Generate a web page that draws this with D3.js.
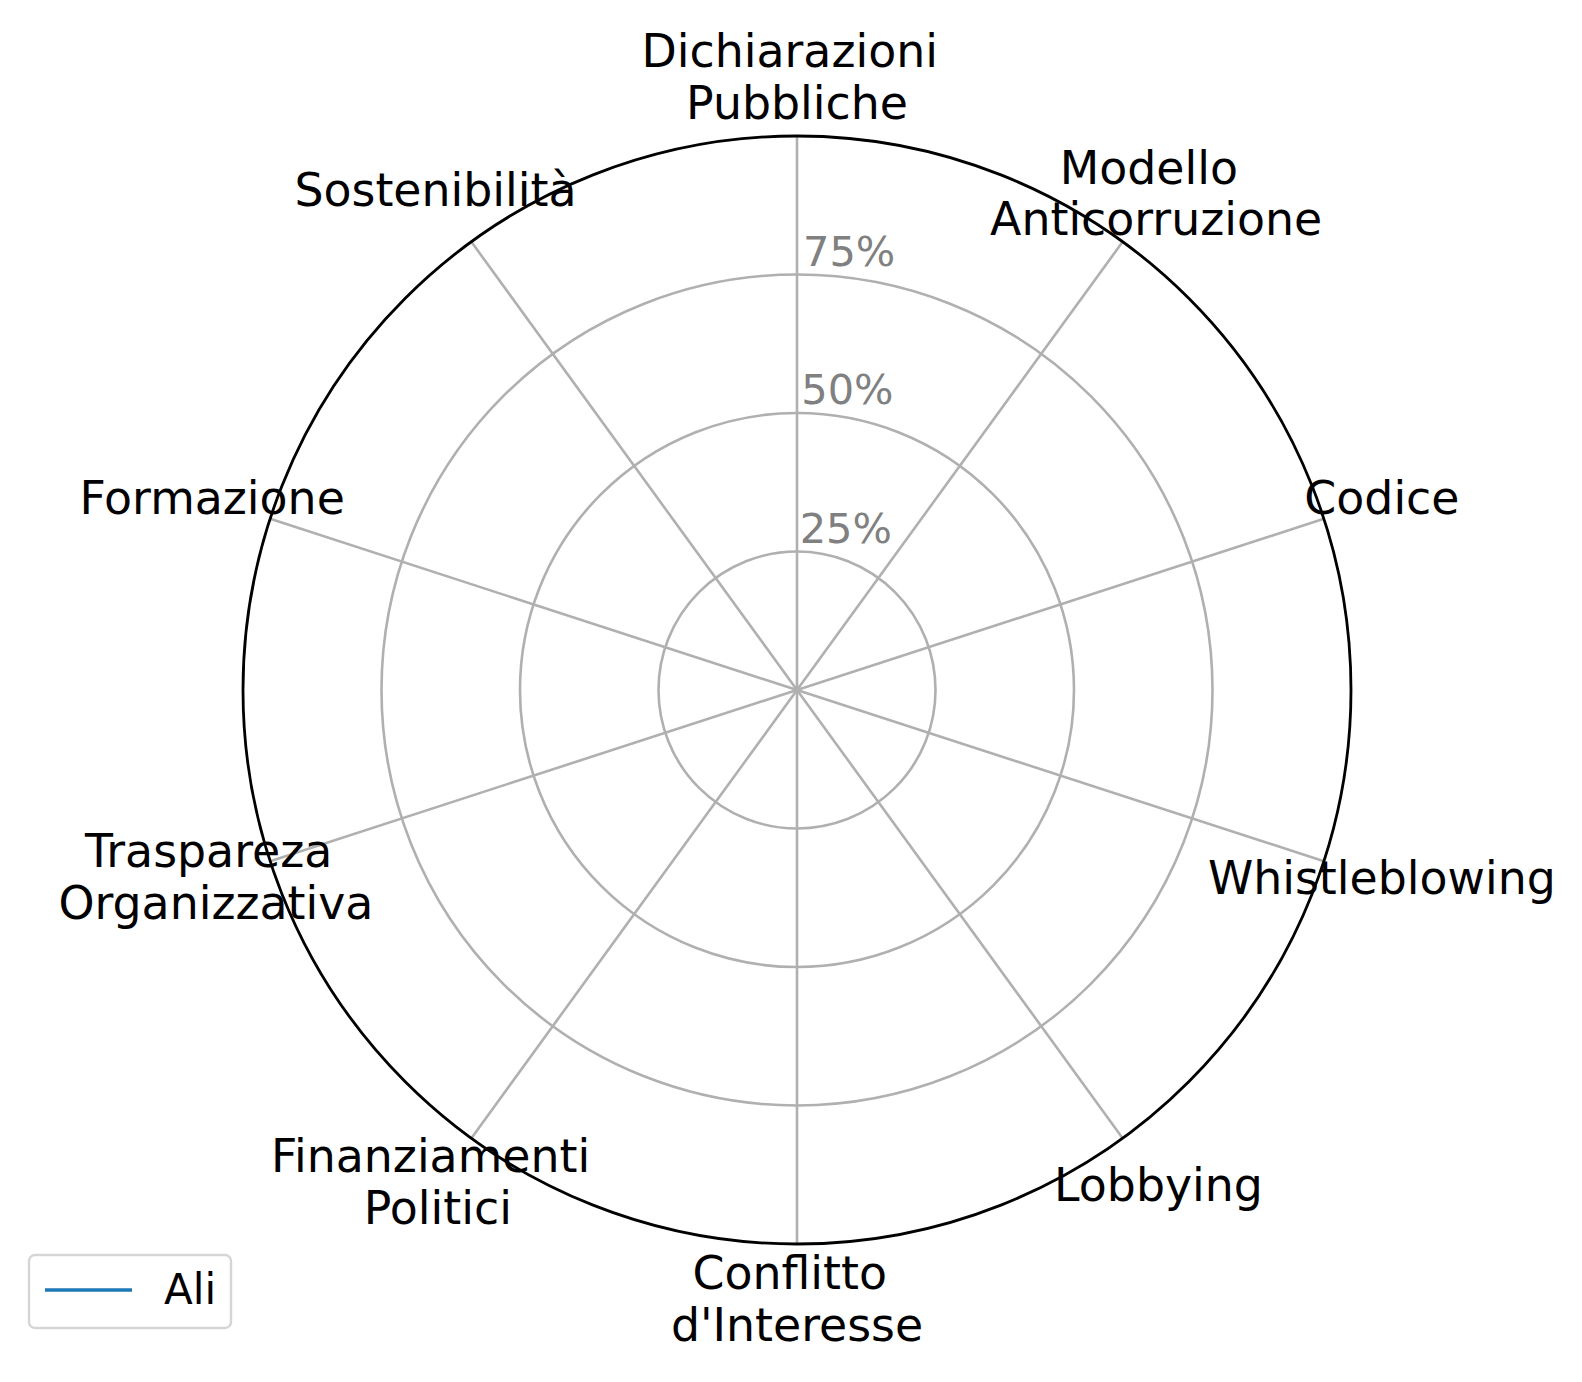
<!DOCTYPE html>
<html>
<head>
<meta charset="utf-8">
<script src="https://cdn.jsdelivr.net/npm/d3@7"></script>
<style>
  html, body { margin: 0; padding: 0; background: #ffffff; }
  svg { display: block; }
  text { font-family: "DejaVu Sans", sans-serif; }
</style>
</head>
<body>
<svg id="chart" width="1582" height="1382"></svg>
<script>
// ---- data ----
const categories = [
  "Dichiarazioni\nPubbliche",
  "Modello\nAnticorruzione",
  "Codice",
  "Whistleblowing",
  "Lobbying",
  "Conflitto\nd'Interesse",
  "Finanziamenti\nPolitici",
  "Traspareza\nOrganizzativa",
  "Formazione",
  "Sostenibilità"
];
const seriesName = "Ali";
const seriesValues = [0, 0, 0, 0, 0, 0, 0, 0, 0, 0];
const radialTicks = [25, 50, 75, 100];
const radialTickLabels = ["25%", "50%", "75%", ""];
const radialMax = 100;

// ---- layout ----
const W = 1582, H = 1382;
const cx = 797, cy = 690, R = 554;
const labelR = R + 63;
const catFont = 45.8, tickFont = 41.5, legendFont = 42;
const lineH = 51.7;

const svg = d3.select("#chart");
const g = svg.append("g").attr("transform", `translate(${cx},${cy})`);

const angle = d3.scaleLinear()
  .domain([0, categories.length])
  .range([0, 2 * Math.PI]);
const r = d3.scaleLinear().domain([0, radialMax]).range([0, R]);

// grid circles (inner)
g.selectAll("circle.grid")
  .data(radialTicks.filter(t => t < radialMax))
  .join("circle")
  .attr("class", "grid")
  .attr("r", d => r(d))
  .attr("fill", "none")
  .attr("stroke", "#b0b0b0")
  .attr("stroke-width", 2.6);

// spokes
g.selectAll("line.spoke")
  .data(categories)
  .join("line")
  .attr("class", "spoke")
  .attr("x1", 0).attr("y1", 0)
  .attr("x2", (d, i) => r(radialMax) * Math.sin(angle(i)))
  .attr("y2", (d, i) => -r(radialMax) * Math.cos(angle(i)))
  .attr("stroke", "#b0b0b0")
  .attr("stroke-width", 2.6);

// outer spine
g.append("circle")
  .attr("r", r(radialMax))
  .attr("fill", "none")
  .attr("stroke", "#000000")
  .attr("stroke-width", 2.8);

// radial tick labels
g.selectAll("text.rtick")
  .data(radialTicks.map((t, i) => ({ t, label: radialTickLabels[i] })).filter(d => d.label))
  .join("text")
  .attr("class", "rtick")
  .attr("x", d => 1 + r(d.t) * 0.012)
  .attr("y", d => -r(d.t) - 9)
  .attr("font-size", tickFont)
  .attr("fill", "#808080")
  .text(d => d.label);

// series line (all zero -> zero-length path, invisible like the reference)
const radial = d3.lineRadial()
  .angle((d, i) => angle(i))
  .radius(d => r(d))
  .curve(d3.curveLinearClosed);
g.append("path")
  .datum(seriesValues)
  .attr("d", radial)
  .attr("fill", "none")
  .attr("stroke", "#1f77b4")
  .attr("stroke-width", 3)
  .attr("stroke-linecap", "butt")
  .attr("stroke-linejoin", "miter");

// category labels
categories.forEach((c, i) => {
  const a = angle(i);
  const lines = c.split("\n");
  const n = lines.length;
  const lr = labelR - (n > 1 ? 6 : 2);
  const x = lr * Math.sin(a);
  const y = -lr * Math.cos(a) + 2;
  const firstBase = y - (n - 1) * lineH / 2 + 0.26 * catFont;
  const t = g.append("text")
    .attr("font-size", catFont)
    .attr("fill", "#000")
    .attr("text-anchor", "middle");
  lines.forEach((ln, k) => {
    t.append("tspan")
      .attr("x", x)
      .attr("y", firstBase + k * lineH)
      .text(k < n - 1 ? ln + "\u00a0" : ln);
  });
});

// legend
const leg = svg.append("g");
leg.append("rect")
  .attr("x", 29).attr("y", 1255)
  .attr("width", 202).attr("height", 73)
  .attr("rx", 6).attr("ry", 6)
  .attr("fill", "#ffffff")
  .attr("fill-opacity", 0.8)
  .attr("stroke", "#d5d5d5")
  .attr("stroke-width", 2.4);
leg.append("line")
  .attr("x1", 45).attr("x2", 132)
  .attr("y1", 1290).attr("y2", 1290)
  .attr("stroke", "#1f77b4")
  .attr("stroke-width", 3.4);
leg.append("text")
  .attr("x", 164).attr("y", 1304)
  .attr("font-size", legendFont)
  .attr("fill", "#000")
  .text(seriesName);
</script>
</body>
</html>
